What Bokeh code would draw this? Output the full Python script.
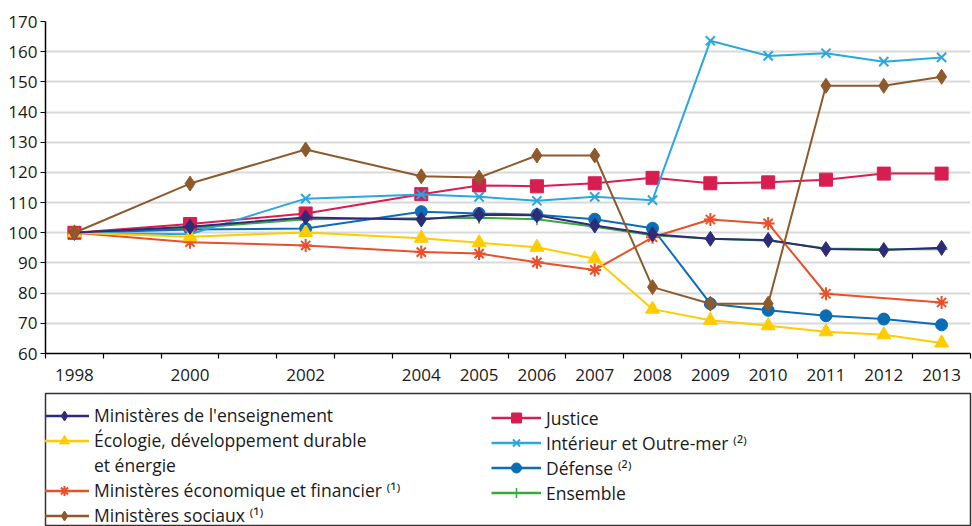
from bokeh.plotting import figure
from bokeh.models import FixedTicker, Legend, LegendItem, Range1d, ColumnDataSource
from bokeh.layouts import column
from bokeh.embed import file_html
from bokeh.resources import INLINE

# ---- data ----
years = [1998, 2000, 2002, 2004, 2005, 2006, 2007, 2008, 2009, 2010, 2011, 2012, 2013]
tick_years = [1998, 2000, 2002, 2004, 2005, 2006, 2007, 2008, 2009, 2010, 2011, 2012, 2013]
y_ticks = [60, 70, 80, 90, 100, 110, 120, 130, 140, 150, 160, 170]

enseignement = [100, 102.0, 105.1, 104.4, 106.0, 105.8, 102.4, 99.5, 98.0, 97.6, 94.6, 94.3, 95.0]
ecologie = [100, 98.7, 100.1, 98.2, 96.7, 95.2, 91.4, 74.7, 71.0, 69.2, 67.2, 66.2, 63.5]
economique = [100, 96.9, 95.8, 93.6, 93.1, 90.2, 87.7, 98.5, 104.4, 103.1, 79.8, None, 76.9]
sociaux = [100, 116.3, 127.6, 118.7, 118.3, 125.6, 125.6, 82.0, 76.5, 76.5, 148.7, 148.7, 151.7]
justice = [100, 102.9, 106.4, 112.8, 115.7, 115.4, 116.4, 118.2, 116.4, 116.7, 117.6, 119.6, 119.6]
interieur = [100, 99.5, 111.3, 112.7, 111.9, 110.6, 111.9, 110.8, 163.6, 158.6, 159.5, 156.7, 158.1]
defense = [100, 101.1, 101.4, 107.0, 106.4, 106.0, 104.5, 101.5, 76.5, 74.3, 72.5, 71.4, 69.5]
ensemble = [100, 101.5, 104.5, 104.8, 105.0, 104.5, 102.0, 99.2, 98.0, 97.4, 94.8, 94.5, 94.5]

labels = {
    "ens": "Ministères de l'enseignement",
    "eco": "Écologie, développement durable",
    "eco2": "et énergie",
    "econ": "Ministères économique et financier \u207d\u00b9\u207e",
    "soc": "Ministères sociaux \u207d\u00b9\u207e",
    "jus": "Justice",
    "int": "Intérieur et Outre-mer \u207d\u00b2\u207e",
    "def": "Défense \u207d\u00b2\u207e",
    "all": "Ensemble",
}

# key, values, color, marker, size, marker line width
series = {
    "ens": (enseignement, "#2E2C78", "diamond", 15, 1),
    "eco": (ecologie, "#FFCC00", "triangle", 14, 1),
    "econ": (economique, "#E8502A", "asterisk", 13, 2),
    "soc": (sociaux, "#8E5A2B", "diamond", 15, 1),
    "jus": (justice, "#D81E50", "square", 13, 1),
    "int": (interieur, "#2AA7DF", "x", 13, 2),
    "def": (defense, "#0B6DB5", "circle", 12, 1),
    "all": (ensemble, "#3BA940", "cross", 12, 1.5),
}
draw_order = ["all", "def", "jus", "int", "econ", "eco", "ens", "soc"]

FONT = "Open Sans"
TXT = "#1a1a1a"
NAN = float("nan")

# ---- main chart ----
p = figure(width=972, height=392, output_backend="svg", toolbar_location=None,
           x_range=Range1d(1997.5, 2013.5), y_range=Range1d(60, 170),
           min_border_left=45, min_border_right=0, min_border_top=21, min_border_bottom=39)
p.outline_line_color = None
p.background_fill_color = "white"

for key in draw_order:
    vals, color, marker, size, mlw = series[key]
    xs = [x for x, v in zip(years, vals) if v is not None]
    ys = [v for v in vals if v is not None]
    src = ColumnDataSource(dict(x=xs, y=ys))
    p.line("x", "y", source=src, line_color=color, line_width=2)
    if marker in ("x", "asterisk", "cross"):
        p.scatter("x", "y", source=src, marker=marker, size=size, line_color=color, line_width=mlw)
    else:
        p.scatter("x", "y", source=src, marker=marker, size=size, fill_color=color, line_color=color, line_width=mlw)

xa = p.xaxis[0]
xa.ticker = FixedTicker(ticks=tick_years, minor_ticks=[y - 0.5 for y in range(1998, 2015)])
xa.major_tick_out = 0
xa.major_tick_in = 0
xa.minor_tick_out = 5
xa.minor_tick_in = 0
xa.major_label_standoff = 10
ya = p.yaxis[0]
ya.ticker = FixedTicker(ticks=y_ticks)
ya.major_tick_out = 5
ya.major_tick_in = 0
ya.major_label_standoff = 3
for ax in (xa, ya):
    ax.axis_line_color = "black"
    ax.axis_line_width = 1.5
    ax.major_tick_line_color = "black"
    ax.major_tick_line_width = 1.2
    ax.minor_tick_line_width = 1.2
    ax.major_label_text_font = FONT
    ax.major_label_text_font_size = "17px"
    ax.major_label_text_color = TXT
xa.minor_tick_line_color = "black"
ya.minor_tick_line_color = None
p.xgrid.grid_line_color = None
p.ygrid.grid_line_color = "#D9D9D9"
p.ygrid.grid_line_width = 2

# ---- legend panel ----
q = figure(width=972, height=134, output_backend="svg", toolbar_location=None,
           x_axis_type=None, y_axis_type=None,
           x_range=Range1d(0, 1), y_range=Range1d(0, 1),
           min_border_left=30, min_border_right=2, min_border_top=1, min_border_bottom=0)
q.outline_line_color = "#333333"
q.outline_line_width = 1.5
q.xgrid.grid_line_color = None
q.ygrid.grid_line_color = None

items = {}
for key, (vals, color, marker, size, mlw) in series.items():
    src = ColumnDataSource(dict(x=[NAN], y=[NAN]))
    lr = q.line("x", "y", source=src, line_color=color, line_width=2.5)
    if marker in ("x", "asterisk", "cross"):
        sr = q.scatter("x", "y", source=src, marker=marker, size=size, line_color=color, line_width=mlw)
    else:
        sr = q.scatter("x", "y", source=src, marker=marker, size=size, fill_color=color, line_color=color)
    items[key] = LegendItem(label=labels[key], renderers=[lr, sr])
dummy = q.line(x=[NAN], y=[NAN], line_alpha=0)
items["eco2"] = LegendItem(label=labels["eco2"], renderers=[dummy])

def make_legend(keys, loc):
    lg = Legend(items=[items[k] for k in keys], location=loc, orientation="vertical",
                glyph_width=50, glyph_height=25, label_height=25, spacing=0,
                label_standoff=5, padding=6, margin=0,
                label_text_font=FONT, label_text_font_size="17.5px", label_text_color=TXT,
                border_line_color=None, background_fill_alpha=0)
    q.add_layout(lg, "center")

make_legend(["ens", "eco", "eco2", "econ", "soc"], (-6, -1.5))
make_legend(["jus", "int", "def", "all"], (446, 21))

layout = column(p, q, spacing=0)
open("out.html", "w").write(file_html(layout, INLINE))
